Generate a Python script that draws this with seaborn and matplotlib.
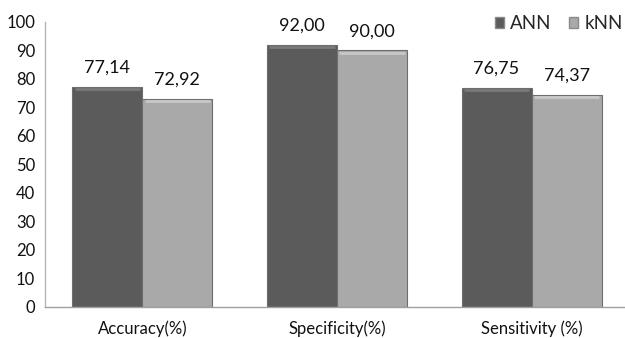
import matplotlib
matplotlib.use("Agg")
import matplotlib.pyplot as plt
import seaborn as sns
import pandas as pd
from matplotlib.patches import Patch

categories = ["Accuracy(%)", "Specificity(%)", "Sensitivity (%)"]
ann_values = [77.14, 92.00, 76.75]
knn_values = [72.92, 90.00, 74.37]
series_names = ["ANN", "kNN"]
y_ticks = [0, 10, 20, 30, 40, 50, 60, 70, 80, 90, 100]

sns.set_style("white")
plt.rcParams["font.family"] = ["Lato", "DejaVu Sans"]

df = pd.DataFrame({
    "metric": categories * 2,
    "model": [series_names[0]] * 3 + [series_names[1]] * 3,
    "value": ann_values + knn_values,
})

colors = {"ANN": "#5b5b5b", "kNN": "#a9a9a9"}
bevel = {"ANN": "#7a7a7a", "kNN": "#c8c8c8"}

fig = plt.figure(figsize=(6.25, 3.38), dpi=100)
ax = fig.add_axes([0.072, 0.092, 0.928, 0.843])

sns.barplot(data=df, x="metric", y="value", hue="model", palette=colors,
            width=0.72, gap=0, ax=ax, legend=False, saturation=1,
            edgecolor="#6e6e6e", linewidth=0.8)

# soft bevel highlight inside the top edge of each bar
for cont, name in zip(ax.containers, series_names):
    for p in cont.patches:
        x, w, h = p.get_x(), p.get_width(), p.get_height()
        ax.plot([x + 0.012, x + w - 0.012], [h - 0.8, h - 0.8], color=bevel[name],
                lw=2.0, solid_capstyle="butt", zorder=3)

for cont in ax.containers:
    labels = [f"{v:.2f}".replace(".", ",") for v in cont.datavalues]
    ax.bar_label(cont, labels=labels, padding=8, fontsize=13, color="#111111")

ax.set_xlim(-0.5, 2.48)
ax.set_ylim(0, 100)
ax.set_yticks(y_ticks)
ax.tick_params(axis="y", labelsize=12, length=0, pad=7, colors="#111111")
ax.tick_params(axis="x", labelsize=12, length=0, pad=10, colors="#111111")
ax.set_xlabel("")
ax.set_ylabel("")

for side in ["top", "right"]:
    ax.spines[side].set_visible(False)
ax.spines["left"].set_color("#b5b5b5")
ax.spines["bottom"].set_color("#a0a0a0")
ax.spines["left"].set_linewidth(1)
ax.spines["bottom"].set_linewidth(1)

handles = [Patch(facecolor=colors[n], edgecolor="#8a8a8a", label=n) for n in series_names]
fig.legend(handles=handles, loc="center right", bbox_to_anchor=(0.997, 0.93), ncol=2,
           frameon=False, fontsize=13.5, handlelength=0.5, handleheight=0.5,
           handletextpad=0.35, columnspacing=0.9, borderaxespad=0, borderpad=0)

fig.savefig("out.png", dpi=100)
